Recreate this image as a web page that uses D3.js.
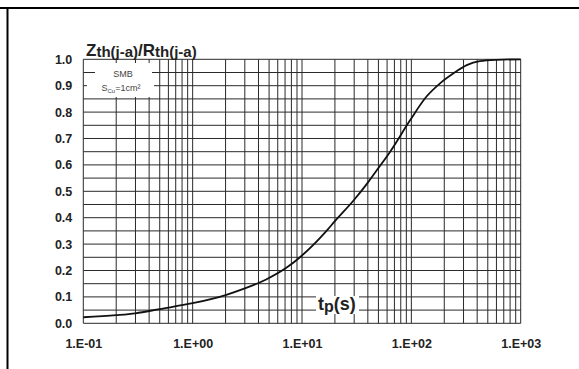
<!DOCTYPE html>
<html>
<head>
<meta charset="utf-8">
<script src="https://cdn.jsdelivr.net/npm/d3@7"></script>
<style>
  body { margin: 0; background: #fff; }
  svg { display: block; font-family: "Liberation Sans", Arial, sans-serif; }
  .axis text { font-weight: bold; font-size: 12.5px; fill: #222; }
  .grid line { stroke: #2a2a2a; stroke-width: 1; }
</style>
</head>
<body>
<div id="chart"></div>
<script>
// pulse duration (s) vs normalised thermal impedance
const tp = [0.1, 0.2, 0.3, 0.5, 1, 2, 3, 4.7, 7.3, 10, 17, 20, 30, 40, 50, 64, 97, 137, 183, 243, 321, 423, 600, 1000];
const zth = [0.023, 0.031, 0.038, 0.054, 0.076, 0.107, 0.132, 0.166, 0.212, 0.257, 0.353, 0.387, 0.468, 0.533, 0.588, 0.65, 0.768, 0.858, 0.909, 0.947, 0.978, 0.993, 0.998, 1.0];
const xTicks = [0.1, 1, 10, 100, 1000];
const xTickLabels = ["1.E-01", "1.E+00", "1.E+01", "1.E+02", "1.E+03"];
const yTicks = [0, 0.1, 0.2, 0.3, 0.4, 0.5, 0.6, 0.7, 0.8, 0.9, 1.0];

const width = 579, height = 369;
const margin = {left: 83.3, right: 58.3, top: 59.3, bottom: 45.7};

const svg = d3.select("#chart").append("svg")
  .attr("width", width)
  .attr("height", height);

// page frame
svg.append("line").attr("x1", 0).attr("x2", width).attr("y1", 8).attr("y2", 8)
  .attr("stroke", "#000").attr("stroke-width", 2);
svg.append("line").attr("x1", 7.5).attr("x2", 7.5).attr("y1", 7).attr("y2", height)
  .attr("stroke", "#000").attr("stroke-width", 2);

const x = d3.scaleLog().domain([0.1, 1000]).range([margin.left, width - margin.right]);
const y = d3.scaleLinear().domain([0, 1]).range([height - margin.bottom, margin.top]);

// grid
const grid = svg.append("g").attr("class", "grid");
grid.selectAll(".v").data(x.ticks()).join("line")
  .attr("class", "v")
  .attr("x1", d => x(d)).attr("x2", d => x(d))
  .attr("y1", y(0)).attr("y2", y(1));
grid.selectAll(".h").data(y.ticks(20)).join("line")
  .attr("class", "h")
  .attr("x1", x(0.1)).attr("x2", x(1000))
  .attr("y1", d => y(d)).attr("y2", d => y(d));

// label boxes knock out the grid
const note = svg.append("g");
note.append("rect").attr("x", 95).attr("y", 63).attr("width", 57).attr("height", 18).attr("fill", "#fff");
note.append("rect").attr("x", 87).attr("y", 80).attr("width", 67).attr("height", 17).attr("fill", "#fff");
note.append("text").attr("x", 123).attr("y", 77).attr("text-anchor", "middle")
  .attr("font-size", 9).attr("fill", "#444").text("SMB");
const t2 = note.append("text").attr("x", 121).attr("y", 91).attr("text-anchor", "middle")
  .attr("font-size", 9).attr("fill", "#444");
t2.append("tspan").text("S");
t2.append("tspan").attr("font-size", 6).attr("dy", 1.5).text("Cu");
t2.append("tspan").attr("dy", -1.5).text("=1cm²");

svg.append("rect").attr("x", 316).attr("y", 296).attr("width", 43).attr("height", 18).attr("fill", "#fff");
const xl = svg.append("text").attr("x", 318).attr("y", 310)
  .attr("font-weight", "bold").attr("font-size", 18).attr("fill", "#222");
xl.append("tspan").text("t");
xl.append("tspan").attr("font-size", 16).attr("dy", 1.5).text("p");
xl.append("tspan").attr("dy", -1.5).text("(s)");

// curve
const line = d3.line()
  .x((d, i) => x(tp[i]))
  .y(d => y(d))
  .curve(d3.curveMonotoneX);
svg.append("path")
  .datum(zth)
  .attr("d", line)
  .attr("fill", "none")
  .attr("stroke", "#111")
  .attr("stroke-width", 1.8);

// axes
svg.append("g").attr("class", "axis")
  .attr("transform", `translate(${margin.left - 8},0)`)
  .call(d3.axisLeft(y).tickValues(yTicks).tickSize(0).tickFormat(d3.format(".1f")))
  .call(g => g.select(".domain").remove());

svg.append("g").attr("class", "axis")
  .attr("transform", `translate(0,${height - margin.bottom + 13})`)
  .call(d3.axisBottom(x).tickValues(xTicks).tickSize(0).tickFormat((d, i) => xTickLabels[i]))
  .call(g => g.select(".domain").remove());

// title
const title = svg.append("text").attr("x", 86).attr("y", 56)
  .attr("font-weight", "bold").attr("fill", "#222").attr("font-size", 17);
title.append("tspan").text("Z");
title.append("tspan").attr("font-size", 15).attr("dy", 1).text("th(j-a)");
title.append("tspan").attr("font-size", 17).attr("dy", -1).text("/R");
title.append("tspan").attr("font-size", 15).attr("dy", 1).text("th(j-a)");
</script>
</body>
</html>
